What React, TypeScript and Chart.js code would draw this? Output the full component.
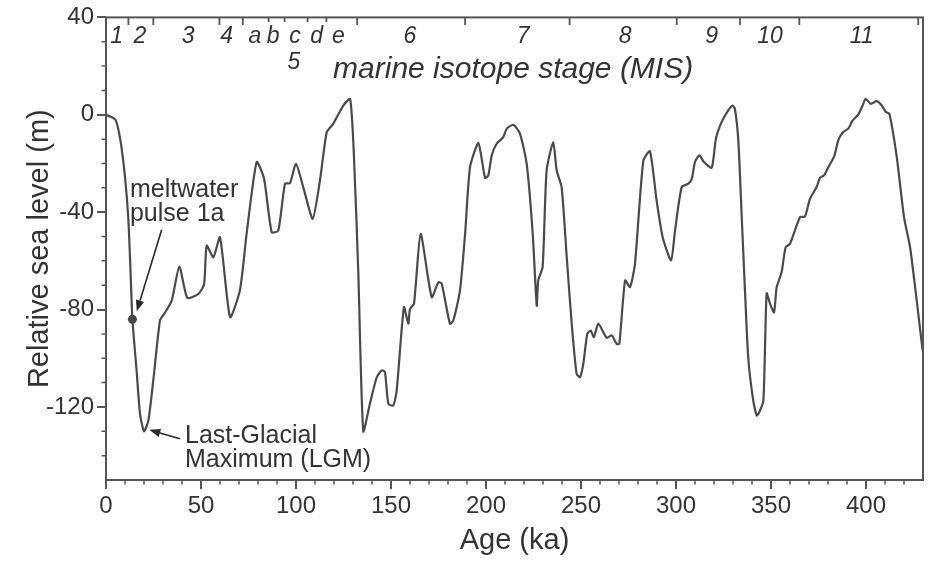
import React, { useEffect, useRef } from "react";
import { Chart, registerables } from "chart.js";

Chart.register(...registerables);

// ---- Data ----
const ages = [
  0, 5, 7.7, 10, 11.7, 12.8, 13.9, 16.1, 17.9, 20, 22.3, 24.9, 28.4, 30.5, 34.6, 38.6, 42.8, 48.6, 51.6, 53,
  56.5, 60, 65.3, 70.5, 74, 79.3, 83.2, 87.2, 90.7, 94.2, 96.8, 100, 103.8, 108.8, 112.6, 116.2, 119.6, 124.9,
  128.5, 130.5, 132.8, 135.4, 138.9, 142.5, 145.1, 146.8, 148.6, 151.2, 153, 156.8, 159.1, 160, 162.1, 165.6,
  171.4, 174.9, 176.7, 181, 182.8, 186.3, 189, 191.6, 196, 199.5, 201.2, 203, 205.6, 209.1, 210.9, 214.4,
  217.9, 221.4, 224.6, 226.7, 227.5, 229.8, 231.9, 235.4, 237.2, 239.8, 242.5, 245.1, 247.7, 249.5, 251.2,
  253.3, 255.1, 256.8, 259.1, 263.5, 266.2, 268.8, 270.2, 273.2, 275.8, 278.4, 282.8, 286.3, 289.8, 293,
  297.4, 299.5, 303, 306.5, 308.3, 310, 312.3, 314.7, 318.8, 321, 324, 327.5, 329.8, 331, 332.8, 334.6,
  336.3, 338, 340.4, 342.5, 343.8, 346, 347.7, 349.5, 351.6, 353, 355.6, 357.7, 360, 365.3, 367.9, 370.5,
  374, 375.8, 377.9, 380.2, 383.3, 385.4, 388, 390.7, 393, 396, 398.2, 399.8, 402.5, 405.6, 408.3, 410.5,
  412.3, 416.2, 420, 423.2, 426.7, 429.8,
];
const seaLevel = [
  0, -2, -11, -25.6, -42, -62, -84, -105, -122.8, -130, -125.6, -109, -84.5, -81.9, -76.3, -62.3, -75.2, -73.6, -69.7, -53.7,
  -58.5, -50.3, -83.1, -72, -48.9, -19.4, -26.3, -48.2, -47.5, -28.3, -28.1, -20.1, -29.7, -42.7, -27, -7.1, -3.7, 3.8,
  6.5, -17, -65, -130, -118.7, -107.8, -105, -105.6, -118.7, -119.4, -113.2, -79, -85.8, -79.7, -77.6, -48.9,
  -74.9, -68.8, -69.4, -85.8, -84.5, -72.2, -48.9, -21.5, -11.6, -25.9, -24.9, -16.7, -11.9, -9.2, -5.7, -4.1,
  -7.8, -20.1, -48.9, -78.4, -68, -62.6, -22.9, -11.2, -22.9, -29.7, -58.5, -85.8, -106.4, -107.8, -102.3,
  -90, -88.6, -91.3, -85.8, -91.6, -90.6, -94.1, -94, -68, -70.8, -61.2, -18.8, -15, -35.2, -50.3,
  -59.8, -47.5, -29.7, -28.3, -26.3, -19.4, -16.7, -19.4, -21.8, -9.8, -3, 1.8, 3.8, 2.5, -10.5, -42,
  -72.2, -99.6, -116, -123.5, -122.2, -117.4, -73.3, -77.6, -81.1, -70.8, -64.6, -54.4, -53, -42, -41.8, -34.5,
  -29.7, -25.9, -24.9, -21.5, -17, -10.5, -7.1, -5.7, -2.3, 0.2, 3.8, 6.6, 4.5, 5.6, 3.8, 1.1,
  0.4, -17.4, -42, -54.4, -76.3, -96.8,
];

const xTickValues = [0, 50, 100, 150, 200, 250, 300, 350, 400];
const yTickValues = [-120, -80, -40, 0, 40];
const xMinorStep = 10;
const yMinorStep = 10;

// Marine isotope stage boundaries (ka) and labels
const misBoundaries = [11.8, 24.9, 59.7, 72, 132.2, 189, 244, 300.4, 333.7, 364.9, 427.5];
const misSubBoundaries = [85.6, 94, 106.1, 116];
const misLabels = ["1", "2", "3", "4", "a", "b", "c", "d", "e", "6", "7", "8", "9", "10", "11"];
const misLabelAges = [5.6, 17.9, 43.3, 63.5, 78.4, 88, 99.5, 110.9, 122.3, 160, 219.6, 273.2, 318.8, 349.5, 397.7];
const mis5Label = "5";
const mis5Age = 98.9;
const misTitle = "marine isotope stage (MIS)";
const misTitleAge = 119.5;

// Annotations
const mwpAge = [13.9];
const mwpLevel = [-84];
const mwpText = ["meltwater", "pulse 1a"];
const mwpTextAt = [12.6, -33.8];
const mwpArrowFrom = [29.3, -47.2];
const mwpArrowTo = [16.2, -80.7];
const lgmText = ["Last-Glacial", "Maximum (LGM)"];
const lgmTextAt = [41.6, -135];
const lgmArrowFrom = [38.9, -133.1];
const lgmArrowTo = [22.8, -129.4];

const FONT = "'Liberation Sans', Arial, Helvetica, sans-serif";
const INK = "#333333";
const FRAME = "#555555";

function arrow(ctx: CanvasRenderingContext2D, x1: number, y1: number, x2: number, y2: number) {
  const ang = Math.atan2(y2 - y1, x2 - x1);
  const len = 11;
  const hw = 4.2;
  const bx = x2 - len * Math.cos(ang);
  const by = y2 - len * Math.sin(ang);
  ctx.beginPath();
  ctx.moveTo(x1, y1);
  ctx.lineTo(bx, by);
  ctx.stroke();
  ctx.beginPath();
  ctx.moveTo(x2, y2);
  ctx.lineTo(bx + hw * Math.sin(ang), by - hw * Math.cos(ang));
  ctx.lineTo(bx - hw * Math.sin(ang), by + hw * Math.cos(ang));
  ctx.closePath();
  ctx.fill();
}

const decorPlugin = {
  id: "decor",
  afterDatasetsDraw(chart: any) {
    const { ctx, chartArea: a, scales } = chart;
    const x = scales.x;
    const y = scales.y;
    ctx.save();

    // frame
    ctx.strokeStyle = FRAME;
    ctx.lineWidth = 2;
    ctx.strokeRect(a.left, a.top, a.right - a.left, a.bottom - a.top);

    // minor ticks
    ctx.lineWidth = 1.5;
    ctx.beginPath();
    for (let v = x.min + xMinorStep; v < x.max - 1; v += xMinorStep) {
      if (xTickValues.includes(v)) continue;
      const px = x.getPixelForValue(v);
      ctx.moveTo(px, a.bottom);
      ctx.lineTo(px, a.bottom + 4.5);
    }
    for (let v = y.min + yMinorStep; v < y.max; v += yMinorStep) {
      if (yTickValues.includes(v)) continue;
      const py = y.getPixelForValue(v);
      ctx.moveTo(a.left, py);
      ctx.lineTo(a.left - 4.5, py);
    }
    ctx.stroke();

    // MIS ticks along the top
    ctx.lineWidth = 1.8;
    ctx.beginPath();
    misBoundaries.forEach((v) => {
      const px = x.getPixelForValue(v);
      ctx.moveTo(px, a.top);
      ctx.lineTo(px, a.top + 7.5);
    });
    misSubBoundaries.forEach((v) => {
      const px = x.getPixelForValue(v);
      ctx.moveTo(px, a.top);
      ctx.lineTo(px, a.top + 4.5);
    });
    ctx.stroke();

    // MIS labels
    ctx.fillStyle = INK;
    ctx.textAlign = "center";
    ctx.textBaseline = "middle";
    ctx.font = `italic 23px ${FONT}`;
    misLabels.forEach((t, i) => {
      ctx.fillText(t, x.getPixelForValue(misLabelAges[i]), a.top + 19);
    });
    ctx.fillText(mis5Label, x.getPixelForValue(mis5Age), a.top + 45);
    ctx.textAlign = "left";
    ctx.font = `italic 30px ${FONT}`;
    ctx.fillText(misTitle, x.getPixelForValue(misTitleAge), a.top + 52);

    // annotations
    ctx.font = `25px ${FONT}`;
    ctx.textBaseline = "alphabetic";
    const mx = x.getPixelForValue(mwpTextAt[0]);
    const my = y.getPixelForValue(mwpTextAt[1]);
    mwpText.forEach((t, i) => ctx.fillText(t, mx, my + i * 24));
    const lx = x.getPixelForValue(lgmTextAt[0]);
    const ly = y.getPixelForValue(lgmTextAt[1]);
    lgmText.forEach((t, i) => ctx.fillText(t, lx, ly + i * 24));

    ctx.strokeStyle = "#2a2a2a";
    ctx.fillStyle = "#2a2a2a";
    ctx.lineWidth = 1.6;
    arrow(
      ctx,
      x.getPixelForValue(mwpArrowFrom[0]), y.getPixelForValue(mwpArrowFrom[1]),
      x.getPixelForValue(mwpArrowTo[0]), y.getPixelForValue(mwpArrowTo[1])
    );
    arrow(
      ctx,
      x.getPixelForValue(lgmArrowFrom[0]), y.getPixelForValue(lgmArrowFrom[1]),
      x.getPixelForValue(lgmArrowTo[0]), y.getPixelForValue(lgmArrowTo[1])
    );
    ctx.restore();
  },
};

export default function App() {
  const ref = useRef<HTMLCanvasElement>(null);

  useEffect(() => {
    if (!ref.current) return;
    Chart.defaults.font.family = FONT;
    Chart.defaults.color = INK;
    const chart = new Chart(ref.current, {
      type: "line",
      data: {
        datasets: [
          {
            data: ages.map((a, i) => ({ x: a, y: seaLevel[i] })),
            borderColor: "#4a4a4a",
            borderWidth: 2.2,
            pointRadius: 0,
            tension: 0.2,
            fill: false,
          },
          {
            data: mwpAge.map((a, i) => ({ x: a, y: mwpLevel[i] })),
            showLine: false,
            pointRadius: 4.5,
            pointBackgroundColor: "#444",
            pointBorderColor: "#444",
            pointBorderWidth: 0,
          },
        ],
      },
      options: {
        animation: false,
        responsive: false,
        devicePixelRatio: 1,
        layout: { padding: { top: 17, right: 12, left: 0, bottom: 0 } },
        plugins: { legend: { display: false }, tooltip: { enabled: false } },
        scales: {
          x: {
            type: "linear",
            min: 0,
            max: 430,
            afterBuildTicks: (s: any) => {
              s.ticks = xTickValues.map((v) => ({ value: v }));
            },
            afterFit: (s: any) => {
              s.height = 83;
            },
            ticks: {
              font: { size: 24, family: FONT },
              color: INK,
              padding: 3,
              maxRotation: 0,
              callback: (v: any) => String(v),
            },
            grid: { display: true, drawOnChartArea: false, drawTicks: true, tickLength: 9, color: FRAME, lineWidth: 2 },
            border: { display: false },
            title: {
              display: true,
              text: "Age (ka)",
              font: { size: 29, family: FONT },
              color: INK,
              padding: { top: 0, bottom: 5 },
            },
          },
          y: {
            type: "linear",
            min: -150,
            max: 40,
            afterBuildTicks: (s: any) => {
              s.ticks = yTickValues.map((v) => ({ value: v }));
            },
            afterFit: (s: any) => {
              s.width = 106;
            },
            ticks: {
              font: { size: 24, family: FONT },
              color: INK,
              padding: 3,
              callback: (v: any) => String(v),
            },
            grid: { display: true, drawOnChartArea: false, drawTicks: true, tickLength: 9, color: FRAME, lineWidth: 2 },
            border: { display: false },
            title: {
              display: true,
              text: "Relative sea level (m)",
              font: { size: 29, family: FONT },
              color: INK,
              padding: { top: 23, bottom: 0 },
            },
          },
        },
      },
      plugins: [decorPlugin],
    });
    return () => chart.destroy();
  }, []);

  return (
    <div style={{ position: "absolute", left: 0, top: 0, width: 935, height: 563, background: "#fff" }}>
      <canvas ref={ref} width={935} height={563} style={{ display: "block", width: 935, height: 563 }} />
    </div>
  );
}
